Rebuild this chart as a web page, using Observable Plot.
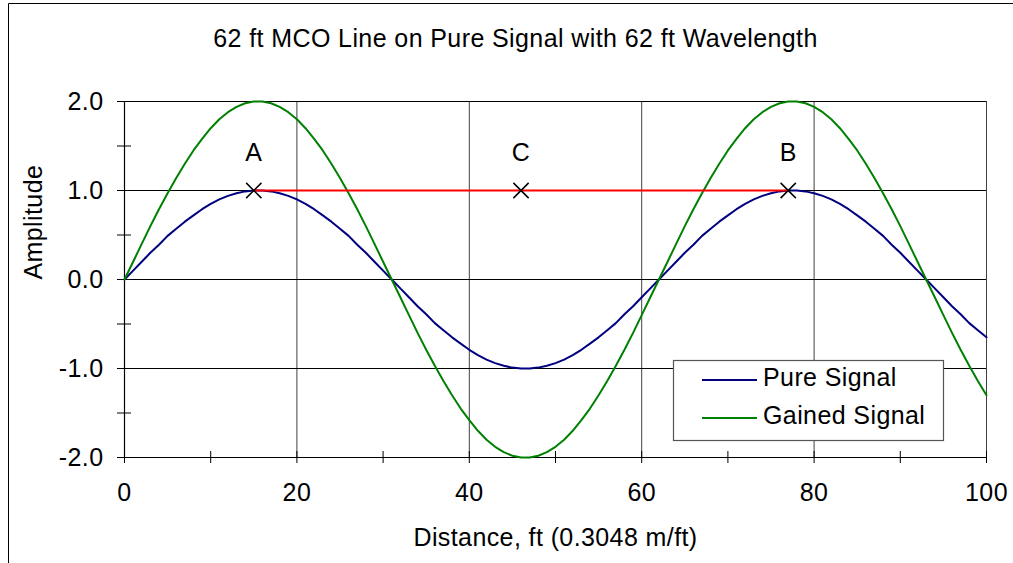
<!DOCTYPE html>
<html>
<head>
<meta charset="utf-8">
<script src="https://cdn.jsdelivr.net/npm/d3@7"></script>
<script src="https://cdn.jsdelivr.net/npm/@observablehq/plot@0.6"></script>
<style>
  html, body { margin: 0; padding: 0; background: #fff; }
  #chart svg text { letter-spacing: 0.4px; }
</style>
</head>
<body>
<div id="chart"></div>
<script>
// Distance along the line, ft (1 ft sampling)
const distance = d3.range(0, 101);

// Pure signal, 62 ft wavelength, unit amplitude
const pureSignal = [
  0.00, 0.10, 0.20, 0.30, 0.39, 0.49, 0.57, 0.65, 0.72, 0.79,
  0.85, 0.90, 0.94, 0.97, 0.99, 1.00, 1.00, 0.99, 0.97, 0.94,
  0.90, 0.85, 0.79, 0.72, 0.65, 0.57, 0.49, 0.39, 0.30, 0.20,
  0.10, 0.00, -0.10, -0.20, -0.30, -0.39, -0.49, -0.57, -0.65, -0.72,
  -0.79, -0.85, -0.90, -0.94, -0.97, -0.99, -1.00, -1.00, -0.99, -0.97,
  -0.94, -0.90, -0.85, -0.79, -0.72, -0.65, -0.57, -0.49, -0.39, -0.30,
  -0.20, -0.10, 0.00, 0.10, 0.20, 0.30, 0.39, 0.49, 0.57, 0.65,
  0.72, 0.79, 0.85, 0.90, 0.94, 0.97, 0.99, 1.00, 1.00, 0.99,
  0.97, 0.94, 0.90, 0.85, 0.79, 0.72, 0.65, 0.57, 0.49, 0.39,
  0.30, 0.20, 0.10, 0.00, -0.10, -0.20, -0.30, -0.39, -0.49, -0.57,
  -0.65
];

// Gained signal
const gainedSignal = [
  0.00, 0.20, 0.40, 0.60, 0.79, 0.97, 1.14, 1.30, 1.45, 1.58,
  1.70, 1.80, 1.88, 1.94, 1.98, 2.00, 2.00, 1.98, 1.94, 1.88,
  1.80, 1.70, 1.58, 1.45, 1.30, 1.14, 0.97, 0.79, 0.60, 0.40,
  0.20, 0.00, -0.20, -0.40, -0.60, -0.79, -0.97, -1.14, -1.30, -1.45,
  -1.58, -1.70, -1.80, -1.88, -1.94, -1.98, -2.00, -2.00, -1.98, -1.94,
  -1.88, -1.80, -1.70, -1.58, -1.45, -1.30, -1.14, -0.97, -0.79, -0.60,
  -0.40, -0.20, 0.00, 0.20, 0.40, 0.60, 0.79, 0.97, 1.14, 1.30,
  1.45, 1.58, 1.70, 1.80, 1.88, 1.94, 1.98, 2.00, 2.00, 1.98,
  1.94, 1.88, 1.80, 1.70, 1.58, 1.45, 1.30, 1.14, 0.97, 0.79,
  0.60, 0.40, 0.20, 0.00, -0.20, -0.40, -0.60, -0.79, -0.97, -1.14,
  -1.30
];

// MCO line points
const mcoLabels = ["A", "C", "B"];
const mcoDistance = [15, 46, 77];
const mcoAmplitude = [1.0, 1.0, 1.0];

const seriesNames = ["Pure Signal", "Gained Signal"];
const seriesColors = ["#000080", "#008000"];

const xTicks = [0, 20, 40, 60, 80, 100];
const xMinorTicks = [10, 30, 50, 70, 90];
const yTicks = [-2, -1, 0, 1, 2];
const yTickLabels = ["-2.0", "-1.0", "0.0", "1.0", "2.0"];
const yMinorTicks = [-1.5, -0.5, 0.5, 1.5];

const titleText = "62 ft MCO Line on Pure Signal with 62 ft Wavelength";
const xLabel = "Distance, ft (0.3048 m/ft)";
const yLabel = "Amplitude";

const pureRows = distance.map((d, i) => ({distance: d, amplitude: pureSignal[i]}));
const gainedRows = distance.map((d, i) => ({distance: d, amplitude: gainedSignal[i]}));
const mcoRows = mcoLabels.map((label, i) => ({label, distance: mcoDistance[i], amplitude: mcoAmplitude[i]}));
const yLabelMap = new Map(yTicks.map((t, i) => [t, yTickLabels[i]]));

const chart = Plot.plot({
  width: 1013,
  height: 563,
  marginLeft: 124,
  marginRight: 27,
  marginTop: 101,
  marginBottom: 106,
  style: {
    fontFamily: "'Liberation Sans', Arial, sans-serif",
    fontSize: "25px",
    background: "#fff",
    color: "#000",
    overflow: "visible"
  },
  x: {domain: [0, 100]},
  y: {domain: [-2, 2]},
  marks: [
    // grid
    Plot.ruleX(xTicks.filter(t => t > 0), {stroke: "#000", strokeWidth: 1, strokeOpacity: 0.75}),
    Plot.ruleY(yTicks.filter(t => t > -2), {stroke: "#000", strokeWidth: 1}),
    // axis lines
    Plot.ruleX([0], {stroke: "#000", strokeWidth: 1.2}),
    Plot.ruleY([-2], {stroke: "#000", strokeWidth: 1.2}),
    // ticks crossing the axes
    Plot.axisY(yTicks, {anchor: "left", label: null, tickSize: 14, dx: 7, tickPadding: 14,
      tickFormat: t => yLabelMap.get(t), fontSize: 25}),
    Plot.axisY(yMinorTicks, {anchor: "left", label: null, tickSize: 14, dx: 7, tickFormat: () => ""}),
    Plot.axisX(xTicks, {anchor: "bottom", label: null, tickSize: 12, dy: -6, tickPadding: 20,
      tickFormat: d => String(d), fontSize: 25}),
    Plot.axisX(xMinorTicks, {anchor: "bottom", label: null, tickSize: 12, dy: -6, tickFormat: () => ""}),
    // series
    Plot.line(pureRows, {x: "distance", y: "amplitude", stroke: seriesColors[0], strokeWidth: 2}),
    Plot.line(gainedRows, {x: "distance", y: "amplitude", stroke: seriesColors[1], strokeWidth: 2}),
    // MCO line from A to B
    Plot.link([mcoRows[0]], {
      x1: "distance", y1: "amplitude",
      x2: () => mcoRows[2].distance, y2: () => mcoRows[2].amplitude,
      stroke: "#ff0000", strokeWidth: 2
    }),
    Plot.dot(mcoRows, {x: "distance", y: "amplitude", symbol: "times", r: 7, stroke: "#000", strokeWidth: 1.5}),
    Plot.text(mcoRows, {x: "distance", y: "amplitude", text: "label", dy: -38, lineAnchor: "middle", fontSize: 25, fill: "#000"}),
    // titles
    Plot.text([titleText], {frameAnchor: "top", dx: -40, dy: -63, lineAnchor: "middle", fontSize: 25, fill: "#000"}),
    Plot.text([xLabel], {frameAnchor: "bottom", dy: 80, lineAnchor: "middle", fontSize: 25, fill: "#000"}),
    Plot.text([yLabel], {frameAnchor: "left", dx: -91, rotate: -90, lineAnchor: "middle", fontSize: 25, fill: "#000"})
  ]
});

document.getElementById("chart").appendChild(chart);

// chart-area border and legend box
const svg = d3.select(chart);
svg.append("path")
  .attr("d", "M8.5,563V3.5H1013")
  .attr("fill", "none")
  .attr("stroke", "#000")
  .attr("stroke-width", 1);

const legend = svg.append("g").attr("text-anchor", "start");
legend.append("rect")
  .attr("x", 673.5).attr("y", 360.5)
  .attr("width", 270).attr("height", 80)
  .attr("fill", "#fff")
  .attr("stroke", "#555")
  .attr("stroke-width", 1.2);
seriesNames.forEach((name, i) => {
  const cy = 380 + i * 38;
  legend.append("line")
    .attr("x1", 702).attr("x2", 757)
    .attr("y1", cy).attr("y2", cy)
    .attr("stroke", seriesColors[i])
    .attr("stroke-width", 2);
  legend.append("text")
    .attr("x", 763).attr("y", cy + 6)
    .attr("text-anchor", "start")
    .attr("font-size", 25)
    .attr("fill", "#000")
    .text(name);
});
</script>
</body>
</html>
